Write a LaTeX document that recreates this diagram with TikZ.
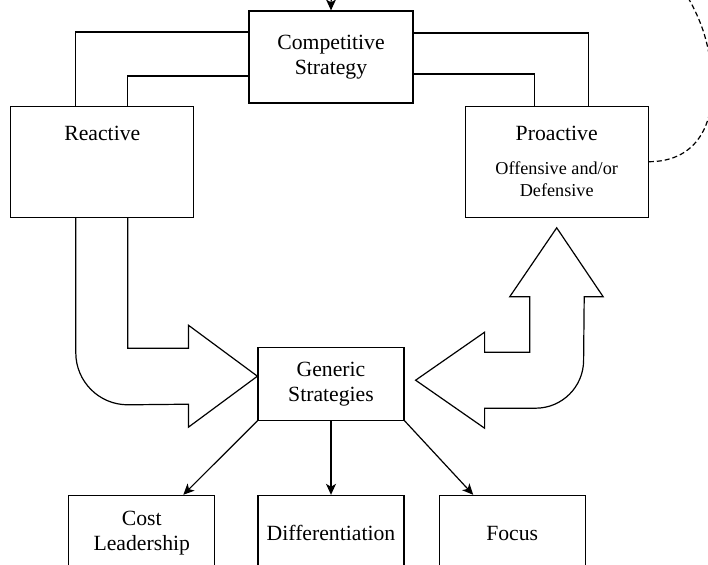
\documentclass[tikz,border=0pt]{standalone}
\usepackage{fontspec}
\setmainfont{Liberation Serif}
\usetikzlibrary{arrows.meta}
\usetikzlibrary{calc}
\usetikzlibrary{positioning}
\tikzset{
  part/.style={
    draw,
    rectangle,
    align=center,
    inner sep=0,
    line width=1.2pt,
    node font=\fontsize{21.7}{25}\selectfont,
  },
  side/.style={
    part,
    minimum width=183pt,
    minimum height=111pt,
  },
  choice/.style={
    part,
    minimum width=146pt,
    minimum height=76pt,
  },
  link/.style={
    draw,
    line width=1.2pt,
  },
  fat/.style={
    draw,
    line width=1.2pt,
    line join=miter,
  },
  flow/.style={
    draw,
    >={Stealth[length=11pt,width=10pt,inset=3pt]},
    ->,
    line width=1.2pt,
  },
  feedback/.style={
    flow,
    dash pattern=on 5pt off 3pt,
  },
  explained/.style={
    node font=\fontsize{21.7}{25}\selectfont,
    inner sep=0,
    anchor=base,
  },
  note/.style={
    explained,
    node font=\fontsize{18.2}{22}\selectfont,
    align=center,
    anchor=north,
  }
}

\begin{document}
\begin{tikzpicture}[x=1pt,y=-1pt]
  \useasboundingbox (0,0) rectangle (708,564);
  \fill [white] (0,0) rectangle (708,564);
  \clip (0,0) rectangle (708,564);

  \node (competitive)     [part,minimum width=164pt,minimum height=92pt] at (331,57) {Competitive\\Strategy};
  \node (reactive)        [side,below left=2pt and 54pt of competitive.south west]  {};
  \node (proactive)       [side,below right=2pt and 51pt of competitive.south east] {};
  \node (generic)         [part,minimum width=146pt,minimum height=73pt,below=243pt of competitive] {Generic\\Strategies};
  \node (differentiation) [choice,below=74pt of generic]           {Differentiation};
  \node (cost)            [choice,left=42pt of differentiation]    {Cost\\Leadership};
  \node (focus)           [choice,right=34pt of differentiation]   {Focus};

  \node (reactive label)  [explained] at ([yshift=-35pt]reactive.north)  {Reactive};
  \node (proactive label) [explained] at ([yshift=-35pt]proactive.north) {Proactive};
  \node (proactive note)  [note]      at ([yshift=-56pt]proactive.north) {Offensive and/or\\Defensive};

  \path [link] ([yshift=25pt]competitive.west)  -| ([xshift=-26.5pt]reactive.north);
  \path [link] ([yshift=-19pt]competitive.west) -| ([xshift=25.5pt]reactive.north);
  \path [link] ([yshift=24pt]competitive.east)  -| ([xshift=32pt]proactive.north);
  \path [link] ([yshift=-17pt]competitive.east) -| ([xshift=-22pt]proactive.north);

  \coordinate (left outer) at ([xshift=-26.5pt]reactive.south);
  \coordinate (left inner) at ([xshift=25.5pt]reactive.south);
  \coordinate (left tip)   at ([yshift=7.5pt]generic.west);
  \path [fat] (left outer) -- ++(0,135) arc [start angle=180,end angle=90,radius=52]
    -- ($(left tip)+(-69,28)$) -- ++(0,23) -- (left tip) -- ($(left tip)+(-69,-51)$)
    -- ++(0,23) -| (left inner);

  \coordinate (right tip) at ([xshift=11pt,yshift=3.5pt]generic.east);
  \coordinate (up tip)    at ([yshift=-10pt]proactive.south);
  \path [fat] ($(up tip)+(-27,69)$) |- ($(right tip)+(69,-28)$) -- ++(0,-20) -- (right tip)
    -- ($(right tip)+(69,48)$) -- ++(0,-20) -- ++(51,0) arc [start angle=90,end angle=0,radius=48]
    -- ($(up tip)+(27.5,69)$) -- ++(19,0) -- (up tip) -- ($(up tip)+(-47,69)$) -- cycle;

  \path [flow] (generic.south west) -- ([xshift=41.5pt]cost.north);
  \path [flow] (generic.south)      -- (differentiation.north);
  \path [flow] (generic.south east) -- ([xshift=-39pt]focus.north);

  \path [feedback] (proactive.east) .. controls +(44,0) and +(0,40) .. (712,90)
    .. controls +(0,-50) and +(20,30) .. (677,-20)
    .. controls +(-37,-50) and +(0,-70) .. (competitive.north);
\end{tikzpicture}
\end{document}
